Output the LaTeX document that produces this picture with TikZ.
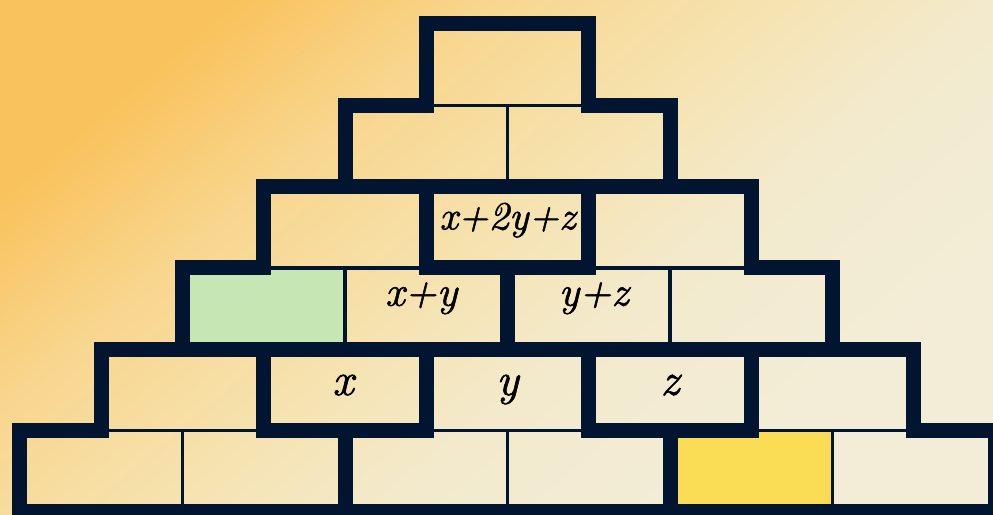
\documentclass[tikz,border=0pt]{standalone}
\usepackage{fontspec}
\newfontface\labfont{lmroman10-italic.otf}[FakeBold=1.2]
\definecolor{ink}{HTML}{011430}
\definecolor{bgA}{HTML}{F9C25C}
\definecolor{bgB}{HTML}{F8D68E}
\definecolor{bgC}{HTML}{F6E2AE}
\definecolor{bgD}{HTML}{F3EACC}
\definecolor{bgE}{HTML}{F3EDD8}
\definecolor{brickgreen}{HTML}{C6E6B3}
\definecolor{brickyellow}{HTML}{FADC55}
\pgfdeclarehorizontalshading{bgshade}{100bp}{color(0bp)=(bgA); color(25bp)=(bgA); color(36bp)=(bgB); color(48bp)=(bgC); color(58bp)=(bgD); color(72bp)=(bgE); color(100bp)=(bgE)}
\tikzset{
  brick/.style={rectangle, draw=ink, line width=3.5pt, minimum width=162.5pt, minimum height=81.3pt, inner sep=0pt},
  heavy/.style={draw=ink, line width=15pt, line cap=rect, line join=miter},
  lab/.style={inner sep=0pt, text height=1ex, text depth=0pt, text=black},
  labS/.style={lab, font=\fontsize{40}{42}\selectfont\labfont},
  labM/.style={lab, font=\fontsize{42}{44}\selectfont\labfont},
  labL/.style={lab, font=\fontsize{46}{48}\selectfont\labfont}
}
\begin{document}
\begin{tikzpicture}[x=81.25pt,y=-81.3pt]
\coordinate (bbA) at (-0.24615,-0.29520);
\coordinate (bbB) at (11.97538,6.03936);
\useasboundingbox (bbA) rectangle (bbB);
\clip (bbA) rectangle (bbB);
\shade[shading=bgshade, shading angle=-50] (bbA) rectangle (bbB);
% coloured bricks
\fill[brickgreen] (2,3) rectangle (4,4);
\fill[brickyellow] (8,5) rectangle (10,6);
% all bricks with thin joints
\foreach \r in {0,...,5}{
  \foreach \i in {0,...,\r}{
    \node[brick] (b\r\i) at ({5-\r+2*\i+1},{\r+0.5}) {};
  }
}
% heavy outline of the pyramid
\draw[heavy] (0,6) -- (0,5) -- (1,5) -- (1,4) -- (2,4) -- (2,3) -- (3,3) -- (3,2)
  -- (4,2) -- (4,1) -- (5,1) -- (5,0) -- (7,0) -- (7,1) -- (8,1) -- (8,2) -- (9,2)
  -- (9,3) -- (10,3) -- (10,4) -- (11,4) -- (11,5) -- (12,5) -- (12,6) -- cycle;
% heavy inner lines
\draw[heavy] (3,2) -- (9,2);
\draw[heavy] (5,2) -- (5,3) -- (7,3) -- (7,2);
\draw[heavy] (6,3) -- (6,4);
\draw[heavy] (2,4) -- (10,4);
\draw[heavy] (3,4) -- (3,5) -- (5,5) -- (5,4);
\draw[heavy] (7,4) -- (7,5) -- (9,5) -- (9,4);
\draw[heavy] (4,5) -- (4,6);
\draw[heavy] (8,5) -- (8,6);
% labels
\node[labS] (t21) at (b21.center) {x+2y+z};
\node[labM, xshift=-5pt, yshift=5pt] (t31) at (b31.center) {x+y};
\node[labM, xshift=5pt, yshift=5pt] (t32) at (b32.center) {y+z};
\node[labL, xshift=-2pt, yshift=-3pt] (t41) at (b41.center) {x};
\node[labL, yshift=-3pt] (t42) at (b42.center) {y};
\node[labL, yshift=-3pt] (t43) at (b43.center) {z};
\end{tikzpicture}
\end{document}
